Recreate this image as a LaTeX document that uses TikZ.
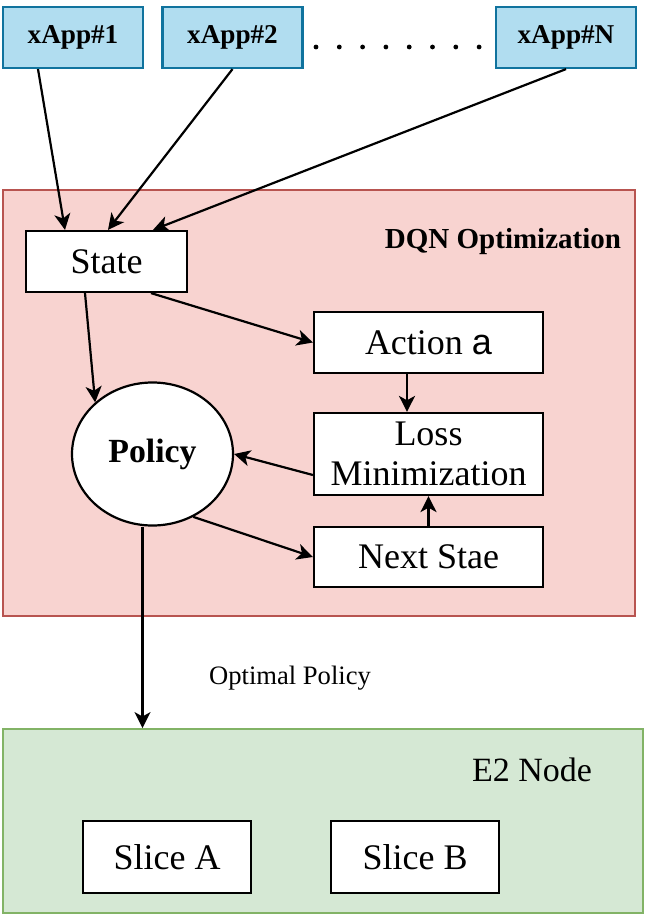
\documentclass[tikz,border=0pt]{standalone}
\usepackage{fontspec}
\setmainfont{Liberation Serif}
\newfontfamily\actfont{Liberation Sans}
\usetikzlibrary{arrows.meta,calc,shapes.geometric}

\definecolor{appfill}{HTML}{B1DDF0}
\definecolor{appline}{HTML}{10739E}
\definecolor{dqnfill}{HTML}{F8D3D0}
\definecolor{dqnline}{HTML}{B85450}
\definecolor{e2fill}{HTML}{D5E8D4}
\definecolor{e2line}{HTML}{82B366}

\begin{document}
\begin{tikzpicture}[x=0.5pt, y=-0.5pt, >={Stealth[length=8pt, width=8pt, inset=2.2pt]},
    every node/.style={inner sep=0pt},
    appbox/.style={draw=appline, fill=appfill, line width=1.1pt, minimum width=70pt, minimum height=30.5pt,
        font=\fontsize{13.6}{16}\selectfont\bfseries},
    whitebox/.style={draw, fill=white, line width=1.1pt, align=center, font=\fontsize{18}{20}\selectfont},
    link/.style={->, line width=1.1pt}]
    \useasboundingbox (0,0) rectangle (644,914);

    \node[appbox] (xa1) at (73,37.5) {xApp\#1};
    \node[appbox] (xa2) at (232.5,37.5) {xApp\#2};
    \node[appbox] (xaN) at (566,37.5) {xApp\#N};
    \foreach \i in {0,...,7}
        \fill (316+23.3*\i,47) circle (1.2pt);

    \begin{scope}
        \node[draw=dqnline, fill=dqnfill, line width=0.9pt, minimum width=316pt, minimum height=213pt] (dqn) at (319,403) {};
        \node[font=\fontsize{14.5}{17}\selectfont\bfseries] (dqnlabel) at (503,242) {DQN Optimization};

        \node[whitebox, minimum width=80.5pt, minimum height=30.5pt] (state) at (106.5,261.5) {State};
        \node[whitebox, minimum width=114.5pt, minimum height=30.5pt] (action) at (428.5,342.5) {Action {\actfont a}};
        \node[whitebox, minimum width=114.5pt, minimum height=41pt] (loss) at (428.5,454) {Loss\\Minimization};
        \node[whitebox, minimum width=114.5pt, minimum height=30pt] (next) at (428.5,557) {Next Stae};
        \node[ellipse, draw, fill=white, line width=1.1pt, minimum width=80.5pt, minimum height=71.5pt,
            font=\fontsize{16.9}{20}\selectfont\bfseries] (policy) at (152.5,454) {Policy};
    \end{scope}

    \begin{scope}
        \node[draw=e2line, fill=e2fill, line width=0.9pt, minimum width=320pt, minimum height=92pt] (e2) at (323,821) {};
        \node[font=\fontsize{17}{20}\selectfont] (e2label) at (532,770) {E2 Node};
        \node[whitebox, minimum width=84pt, minimum height=36pt] (slicea) at (167,857) {Slice A};
        \node[whitebox, minimum width=84pt, minimum height=36pt] (sliceb) at (415,857) {Slice B};
    \end{scope}

    \draw[link] ($(xa1.south)+(-35,0)$) -- ($(state.north)+(-41.5,0)$);
    \draw[link] (xa2.south) -- ($(state.north)+(1.5,0)$);
    \draw[link] (xaN.south) -- ($(state.north)+(46.5,0)$);
    \draw[link] ($(state.south)+(44.5,0)$) -- (action.west);
    \draw[link] ($(state.south)+(-21.5,0)$) -- (policy.138);
    \draw[link] ($(action.south)+(-21.5,0)$) -- ($(loss.north)+(-21.5,0)$);
    \draw[link] ($(loss.west)+(0,21)$) -- (policy.east);
    \draw[link] (policy.-57) -- (next.west);
    \draw[link] (next.north) -- (loss.south);
    \draw[link] ($(policy.south)+(-10,0)$) coordinate (pd) -- (pd |- e2.north);
    \node[font=\fontsize{13.3}{16}\selectfont] (optlabel) at (290,678) {Optimal Policy};
\end{tikzpicture}
\end{document}
